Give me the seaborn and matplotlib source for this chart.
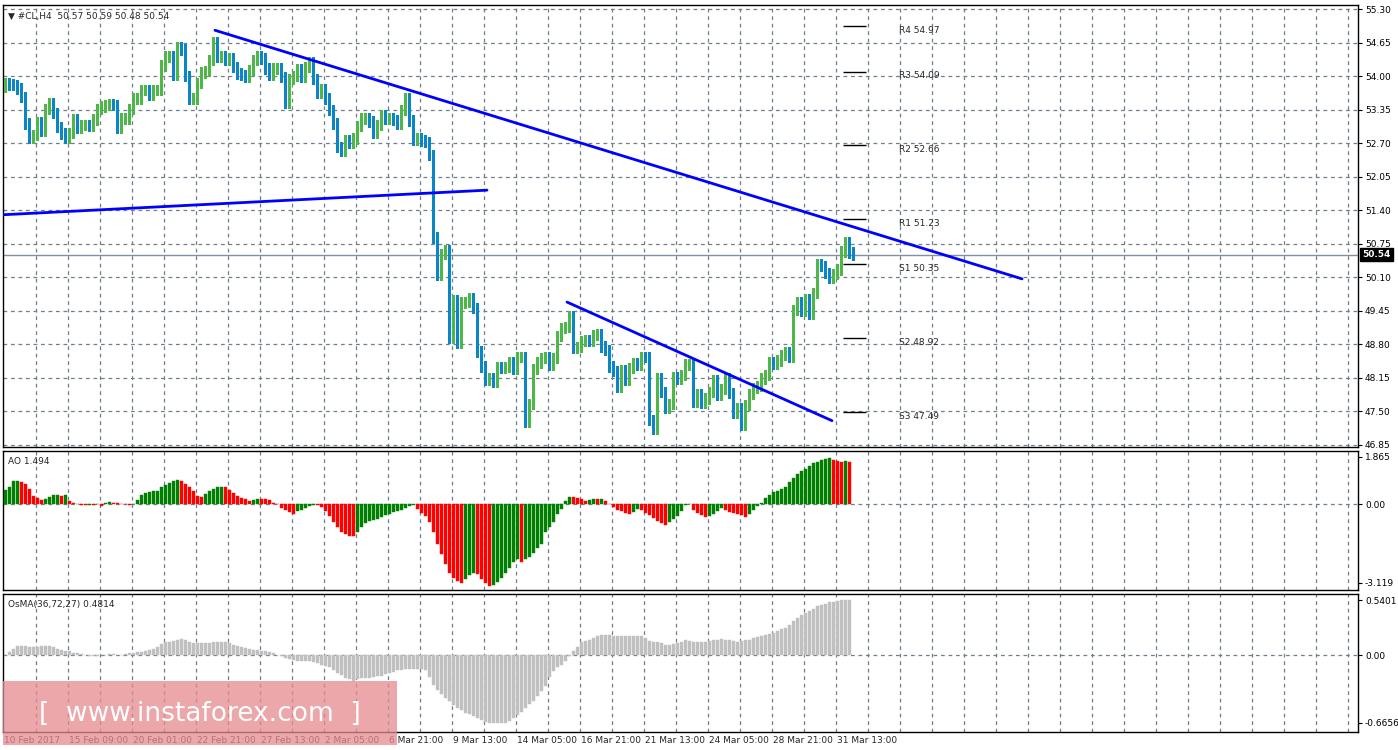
import numpy as np
import pandas as pd
import matplotlib
matplotlib.use("Agg")
import matplotlib.pyplot as plt
import seaborn as sns
from matplotlib.patches import Rectangle

closes = [53.86,53.84,53.83,53.76,53.60,53.08,52.81,52.86,53.10,52.94,53.36,53.47,53.29,53.02,52.89,52.81,52.90,53.16,52.99,53.05,
53.05,53.03,53.16,53.37,53.41,53.44,53.46,53.44,52.99,53.18,53.18,53.36,53.57,53.57,53.73,53.73,53.63,53.73,53.73,54.21,
54.38,54.39,54.02,54.57,54.52,54.00,53.57,53.57,53.87,54.07,54.10,54.31,54.65,54.38,54.38,54.31,54.34,54.18,54.05,54.02,
53.99,54.12,54.31,54.39,54.34,54.15,54.02,54.15,54.16,53.99,53.48,53.94,54.00,54.13,53.99,54.18,54.28,53.94,53.67,53.74,
53.57,53.34,53.08,52.63,52.55,52.76,52.70,52.79,53.03,53.18,53.18,53.12,52.90,53.05,53.25,53.18,53.19,53.15,53.08,53.34,
53.57,53.14,52.77,52.79,52.75,52.73,52.47,
50.87,50.15,50.55,50.63,48.92,49.66,48.82,49.61,49.62,49.69,49.51,48.66,48.37,48.11,48.14,48.08,48.36,48.34,48.36,48.45,
48.32,48.55,48.56,47.30,47.65,48.32,48.45,48.53,48.55,48.40,48.53,48.96,49.12,49.14,49.35,48.74,48.75,48.87,48.88,48.86,
48.98,48.99,48.76,48.69,48.37,48.29,47.97,48.30,48.11,48.34,48.43,48.40,48.56,48.55,47.33,47.17,48.14,47.88,47.56,47.65,
48.16,48.13,48.21,48.41,48.42,47.69,47.84,47.67,47.75,47.88,48.10,47.82,47.94,48.14,47.86,47.48,47.57,47.24,47.63,47.84,
47.95,47.99,48.14,48.21,48.45,48.43,48.49,48.60,48.64,48.55,49.47,49.61,49.45,49.68,49.40,49.79,50.35,50.32,50.19,50.09,
50.16,50.25,50.60,50.78,50.58,50.54]
first_open = 53.80

ao = [0.57,0.66,0.90,0.93,0.86,0.80,0.59,0.32,0.23,0.15,0.19,0.28,0.35,0.36,0.32,0.35,0.12,0.05,
-0.01,-0.03,-0.04,-0.03,-0.04,-0.01,-0.08,0.04,0.08,0.05,0.04,0.01,-0.01,-0.04,-0.01,0.18,0.36,0.42,0.46,0.50,0.53,0.66,
0.77,0.82,0.90,0.96,0.93,0.80,0.66,0.50,0.32,0.28,0.39,0.53,0.59,0.66,0.69,0.66,0.55,0.42,0.32,0.26,0.19,0.12,0.15,0.19,
0.19,0.19,0.15,0.05,-0.01,-0.15,-0.22,-0.31,-0.39,-0.28,-0.22,-0.15,-0.08,-0.04,-0.04,-0.12,-0.28,-0.49,-0.69,-0.89,-1.09,
-1.20,-1.26,-1.26,-1.12,-0.89,-0.76,-0.66,-0.62,-0.58,-0.53,-0.45,-0.39,-0.31,-0.26,-0.22,-0.15,-0.08,-0.04,-0.18,-0.35,
-0.49,-0.69,-1.12,-1.57,-1.97,-2.38,-2.71,-2.92,-3.05,-3.12,-2.96,-2.82,-2.71,-2.78,-2.96,-3.12,-3.23,-3.19,-3.09,-2.92,
-2.71,-2.51,-2.31,-2.17,-2.28,-2.17,-2.11,-1.93,-1.74,-1.57,-1.12,-0.89,-0.69,-0.39,-0.18,0.12,0.28,0.28,0.26,0.19,0.12,
0.15,0.19,0.19,0.22,0.12,0.01,-0.12,-0.22,-0.28,-0.35,-0.39,-0.31,-0.18,-0.22,-0.35,-0.45,-0.55,-0.66,-0.76,-0.82,-0.72,
-0.58,-0.49,-0.28,-0.04,-0.01,-0.22,-0.35,-0.42,-0.53,-0.49,-0.39,-0.28,-0.15,-0.22,-0.31,-0.35,-0.39,-0.45,-0.53,-0.39,
-0.22,-0.08,0.05,0.23,0.36,0.46,0.53,0.59,0.66,0.86,1.04,1.20,1.31,1.40,1.50,1.61,1.67,1.74,1.80,1.81,1.74,1.71,1.67,
1.70,1.66]

osma = [0,.03,.06,.09,.09,.09,.08,.08,.08,.09,.09,.09,.08,.06,.05,.04,.04,.02,.02,.01,0,-.01,-.01,-.01,0,0,.01,.01,0,0,
.01,.02,.02,.03,.03,.04,.05,.06,.08,.11,.13,.13,.14,.15,.16,.15,.13,.12,.12,.12,.12,.12,.13,.13,.13,.13,.12,.10,.09,.08,
.07,.06,.05,.05,.04,.04,.03,.02,0,-.01,-.03,-.04,-.05,-.06,-.06,-.06,-.06,-.07,-.08,-.10,-.11,-.12,-.15,-.18,-.20,-.23,
-.24,-.25,-.24,-.23,-.23,-.23,-.22,-.21,-.21,-.19,-.18,-.17,-.15,-.15,-.14,-.14,-.14,-.14,-.14,-.15,-.22,-.29,-.34,-.38,
-.42,-.45,-.49,-.52,-.54,-.57,-.58,-.60,-.62,-.64,-.66,-.67,-.67,-.67,-.67,-.67,-.65,-.62,-.59,-.56,-.52,-.48,-.45,-.40,
-.35,-.30,-.22,-.16,-.12,-.10,-.06,-.01,.04,.08,.13,.14,.15,.17,.19,.20,.20,.20,.19,.19,.19,.19,.19,.19,.19,.19,.17,.14,
.13,.13,.12,.10,.10,.11,.12,.13,.15,.14,.13,.13,.13,.13,.14,.15,.15,.16,.15,.15,.14,.13,.14,.15,.15,.17,.18,.19,.20,.21,
.22,.24,.26,.27,.30,.33,.36,.39,.41,.43,.45,.48,.49,.50,.52,.52,.53,.54,.54,.54]

date_labels = ["10 Feb 2017","15 Feb 09:00","20 Feb 01:00","22 Feb 21:00","27 Feb 13:00","2 Mar 05:00",
               "6 Mar 21:00","9 Mar 13:00","14 Mar 05:00","16 Mar 21:00","21 Mar 13:00","24 Mar 05:00",
               "28 Mar 21:00","31 Mar 13:00"]
price_ticks = [46.85,47.50,48.15,48.80,49.45,50.10,50.75,51.40,52.05,52.70,53.35,54.00,54.65,55.30]
pivot_names = ["R4","R3","R2","R1","S1","S2","S3"]
pivot_vals = [54.97,54.09,52.66,51.23,50.35,48.92,47.49]
trend_lines = [((52.5,54.89),(254.25,50.07)), ((-1.25,51.31),(120.5,51.79)), ((140.5,49.62),(206.75,47.32))]
last_price = 50.54

sns.set_style("white")
plt.rcParams['font.family'] = ['DejaVu Sans']

W, H = 1398, 750
fig = plt.figure(figsize=(W/100, H/100), dpi=100)
L = 3/W; Wd = (1358-3)/W
ax1 = fig.add_axes([L, 1-447/H, Wd, 442/H])
ax2 = fig.add_axes([L, 1-590/H, Wd, 139/H])
ax3 = fig.add_axes([L, 1-732/H, Wd, 138/H])
xlim = (-0.5, 338.25)
grid_x = [7.7 + 8*k for k in range(42)]
label_x = [-0.5] + [15.7 + 16*k for k in range(13)]
gc = "#6f7f8f"
fs = 6.5

for ax in (ax1, ax2, ax3):
    ax.set_xlim(*xlim)
    for g in grid_x:
        ax.axvline(g, color=gc, lw=0.9, ls=(0, (3, 3)), zorder=0)
    ax.yaxis.tick_right()
    ax.tick_params(axis='y', labelsize=fs, length=3, pad=2, colors='black')
    ax.set_xticks([])
    for s in ax.spines.values():
        s.set_color('black'); s.set_linewidth(1)

# candles
opens = [first_open] + closes[:-1]
df = pd.DataFrame({"i": np.arange(len(closes)), "o": opens, "c": closes})
df["bull"] = df.c >= df.o
df["hi"] = df[["o","c"]].max(axis=1) + 0.10
df["lo"] = df[["o","c"]].min(axis=1) - 0.10
bull_c, bear_c = "#4db848", "#0a86c6"
for _, r in df.iterrows():
    col = bull_c if r.bull else bear_c
    ax1.vlines(r.i, r.lo, r.hi, color=col, lw=1, zorder=3, antialiased=False)
    ax1.bar(r.i, max(abs(r.c-r.o), 0.02), bottom=min(r.o, r.c), width=0.6, color=col,
            edgecolor=col, lw=0.5, zorder=4)

ax1.set_ylim(46.81, 55.38)
ax1.set_yticks(price_ticks)
ax1.set_yticklabels([f"{v:.2f}" for v in price_ticks])
for p in price_ticks:
    ax1.axhline(p, color=gc, lw=0.9, ls=(0, (3, 3)), zorder=0)
ax1.axhline(last_price, color="#8090a0", lw=1, zorder=2)
ax1.text(1.003, (last_price-46.81)/(55.38-46.81), f"{last_price:.2f}", transform=ax1.transAxes,
         fontsize=fs, color='white', va='center', ha='left', fontweight='bold',
         bbox=dict(facecolor='black', edgecolor='black', pad=1.5))

for (x0, y0), (x1, y1) in trend_lines:
    sns.lineplot(x=[x0, x1], y=[y0, y1], ax=ax1, color='#0000ff', lw=2, zorder=5)

for n, v in zip(pivot_names, pivot_vals):
    ax1.hlines(v, 209.5, 215.25, color='black', lw=1, zorder=5)
    ax1.text(223.5, v - 0.08, f"{n} {v:.2f}", fontsize=fs, va='center', ha='left')

ax1.text(0.004, 0.985, "▼ #CL,H4  50.57 50.59 50.48 50.54", transform=ax1.transAxes, fontsize=fs, va='top')

# AO
ao_x = np.arange(len(ao))
ao_col = ['#008000'] + ['#008000' if ao[k] > ao[k-1] else '#ff0000' for k in range(1, len(ao))]
ax2.bar(ao_x, ao, width=0.75, color=ao_col, edgecolor=ao_col, lw=0.3, zorder=3)
ax2.set_ylim(-3.4, 2.1)
ax2.set_yticks([1.865, 0.0, -3.119]); ax2.set_yticklabels(["1.865", "0.00", "-3.119"])
ax2.axhline(0, color=gc, lw=0.9, ls=(0, (3, 3)), zorder=0)
ax2.text(0.004, 0.96, "AO 1.494", transform=ax2.transAxes, fontsize=fs, va='top')

# OsMA
os_x = np.arange(len(osma))
ax3.bar(os_x, osma, width=0.75, color='#c0c0c0', edgecolor='#c0c0c0', lw=0.3, zorder=3)
ax3.set_ylim(-0.756, 0.60)
ax3.set_yticks([0.5401, 0.0, -0.6656]); ax3.set_yticklabels(["0.5401", "0.00", "-0.6656"])
ax3.axhline(0, color=gc, lw=0.9, ls=(0, (3, 3)), zorder=0)
ax3.text(0.004, 0.96, "OsMA(36,72,27) 0.4814", transform=ax3.transAxes, fontsize=fs, va='top')

for lx, lab in zip(label_x, date_labels):
    ax3.text(lx + 0.3, -0.03, lab, transform=ax3.get_xaxis_transform(), fontsize=fs, va='top', ha='left')

# watermark
fig.patches.append(Rectangle((3/W, 1-745/H), 394/W, 64/H, transform=fig.transFigure,
                             facecolor='#e58a8e', alpha=0.75, edgecolor='none', zorder=10))
fig.text(200/W, 1-714/H, "[  www.instaforex.com  ]", fontsize=19, color='white', ha='center', va='center',
         zorder=11)

fig.savefig("out.png", dpi=100)
